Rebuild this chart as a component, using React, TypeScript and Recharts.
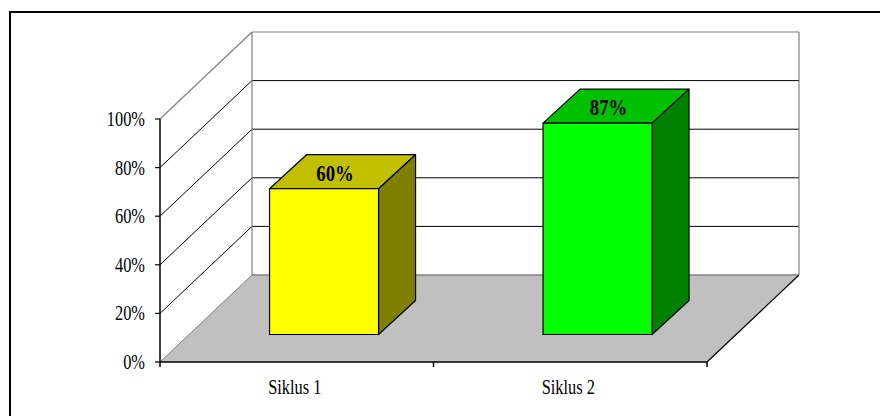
import React from 'react';
import { BarChart, Bar, XAxis, YAxis, CartesianGrid, ReferenceArea, LabelList } from 'recharts';

const categories = ['Siklus 1', 'Siklus 2'];
const values = [0.6, 0.87];
const valueLabels = ['60%', '87%'];
const yTicks = [0, 0.2, 0.4, 0.6, 0.8, 1];
const yTickLabels = ['0%', '20%', '40%', '60%', '80%', '100%'];

const data = categories.map((name, i) => ({ name, value: values[i], label: valueLabels[i] }));

// layout of the fake 3d box (Excel style)
const PLOT_TOP = 119;
const PLOT_BOTTOM = 362;
const PLOT_LEFT = 160;
const PLOT_RIGHT = 707;
const DX = 92; // depth of the walls
const DY = 87;
const SHIFT_X = 27.5; // bars sit a bit into the depth
const SHIFT_Y = 27.5;
const BDX = 37; // depth of a bar
const BDY = 34;

const FONT = '"Liberation Serif", "Times New Roman", serif';
const SQUASH = 0.78;

const barColors = [
  { front: '#FFFF00', top: '#C0C000', side: '#808000' },
  { front: '#00FF00', top: '#00C000', side: '#008000' },
];

const gridLine = (props: any) => {
  const { x1, x2, y1, index } = props;
  if (Math.abs(y1 - PLOT_TOP) < 1 || Math.abs(y1 - PLOT_BOTTOM) < 1) return <g key={`g-${index}`} />;
  return (
    <g key={`g-${index}`}>
      <line x1={x1} y1={y1} x2={x1 + DX} y2={y1 - DY} stroke="#000" strokeWidth={1} />
      <line x1={x1 + DX} y1={y1 - DY} x2={x2 + DX} y2={y1 - DY} stroke="#000" strokeWidth={1} />
    </g>
  );
};

const Walls = (props: any) => {
  const { x, y, width, height } = props;
  const bottom = y + height;
  const right = x + width;
  const gray = '#808080';
  return (
    <g>
      <polygon
        points={`${x},${bottom} ${right},${bottom} ${right + DX},${bottom - DY} ${x + DX},${bottom - DY}`}
        fill="#C0C0C0"
      />
      <line x1={x} y1={bottom} x2={x + DX} y2={bottom - DY} stroke={gray} />
      <line x1={x + DX} y1={bottom - DY} x2={right + DX} y2={bottom - DY} stroke={gray} strokeWidth={1.5} />
      <line x1={right} y1={bottom} x2={right + DX} y2={bottom - DY} stroke="#000" strokeWidth={1.2} />
      <line x1={x + DX} y1={y - DY} x2={x + DX} y2={bottom - DY} stroke={gray} strokeWidth={1.2} />
      <line x1={right + DX} y1={y - DY} x2={right + DX} y2={bottom - DY} stroke={gray} strokeWidth={1.2} />
      <line x1={x + DX} y1={y - DY} x2={right + DX} y2={y - DY} stroke={gray} strokeWidth={1.2} />
      <line x1={x} y1={y} x2={x + DX} y2={y - DY} stroke={gray} strokeWidth={1.2} />
    </g>
  );
};

const Box3D = (props: any) => {
  const { x, y, width, height, payload } = props;
  const idx = props.index ?? categories.indexOf(payload?.name);
  const c = barColors[idx % barColors.length];
  const ox = x + SHIFT_X;
  const oy = y - SHIFT_Y;
  const r = ox + width;
  const b = oy + height;
  return (
    <g stroke="#000" strokeWidth={1.2} strokeLinejoin="round">
      <polygon points={`${ox},${oy} ${ox + BDX},${oy - BDY} ${r + BDX},${oy - BDY} ${r},${oy}`} fill={c.top} />
      <polygon points={`${r},${oy} ${r + BDX},${oy - BDY} ${r + BDX},${b - BDY} ${r},${b}`} fill={c.side} />
      <rect x={ox} y={oy} width={width} height={height} fill={c.front} />
    </g>
  );
};

const TopLabel = (props: any) => {
  const { x, y, width, value } = props;
  const cx = x + width / 2 + SHIFT_X + 11;
  const by = y - SHIFT_Y - 8;
  return (
    <text
      transform={`translate(${cx},${by}) scale(${SQUASH},1)`}
      textAnchor="middle"
      fontFamily={FONT}
      fontWeight="bold"
      fontSize={24}
      fill="#000"
    >
      {value}
    </text>
  );
};

const XTick = (props: any) => {
  const { x, payload, index } = props;
  const half = payload?.offset || (PLOT_RIGHT - PLOT_LEFT) / categories.length / 2;
  return (
    <g>
      <line x1={x - half} y1={PLOT_BOTTOM} x2={x - half} y2={PLOT_BOTTOM + 5} stroke="#000" strokeWidth={1.5} />
      {index === categories.length - 1 && (
        <line x1={x + half} y1={PLOT_BOTTOM} x2={x + half} y2={PLOT_BOTTOM + 5} stroke="#000" strokeWidth={1.5} />
      )}
      <text
        transform={`translate(${x - 2},${PLOT_BOTTOM + 32}) scale(${SQUASH},1)`}
        textAnchor="middle"
        fontFamily={FONT}
        fontSize={21}
        fill="#000"
      >
        {payload.value}
      </text>
    </g>
  );
};

const YTick = (props: any) => {
  const { x, y, payload } = props;
  const label = yTickLabels[yTicks.indexOf(payload.value)];
  return (
    <text
      transform={`translate(${x},${y + 7}) scale(${SQUASH},1)`}
      textAnchor="end"
      fontFamily={FONT}
      fontSize={21}
      fill="#000"
    >
      {label}
    </text>
  );
};

export default function App() {
  return (
    <div style={{ position: 'absolute', left: 0, top: 0, width: 880, height: 416, overflow: 'hidden', background: '#fff' }}>
      {/* outer frame, only the top and left sides fall inside the picture */}
      <div style={{ position: 'absolute', left: 9, top: 11, width: 871, height: 2, background: '#000' }} />
      <div style={{ position: 'absolute', left: 9, top: 11, width: 2, height: 405, background: '#000' }} />
      <div style={{ position: 'absolute', left: 0, top: 0 }}>
        <BarChart
          width={880}
          height={416}
          data={data}
          margin={{ top: PLOT_TOP, right: 880 - PLOT_RIGHT, bottom: 0, left: 0 }}
          barCategoryGap="30%"
        >
          <CartesianGrid vertical={false} horizontal={gridLine} />
          <ReferenceArea y1={0} y2={1} shape={Walls} zIndex={-50} ifOverflow="visible" />
          <XAxis
            dataKey="name"
            height={416 - PLOT_BOTTOM}
            interval={0}
            tickLine={false}
            axisLine={{ stroke: '#000', strokeWidth: 1.5 }}
            tick={XTick}
          />
          <YAxis
            type="number"
            domain={[0, 1]}
            ticks={yTicks}
            width={PLOT_LEFT}
            tickSize={5}
            tickMargin={10}
            axisLine={{ stroke: '#000', strokeWidth: 1.5 }}
            tickLine={{ stroke: '#000', strokeWidth: 1.2 }}
            tick={YTick}
          />
          <Bar dataKey="value" shape={Box3D} isAnimationActive={false}>
            <LabelList dataKey="label" content={TopLabel} />
          </Bar>
        </BarChart>
      </div>
    </div>
  );
}
